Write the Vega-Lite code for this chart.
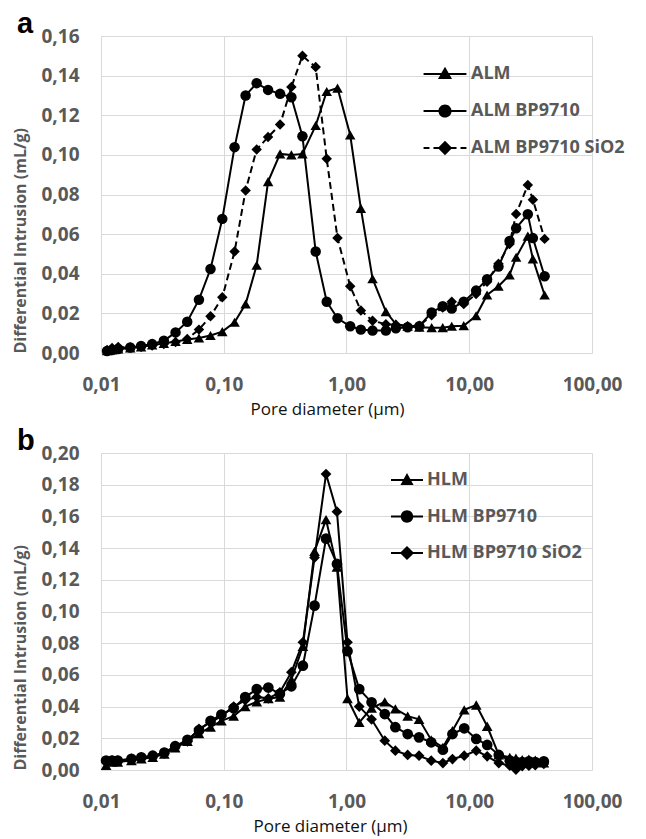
{
"$schema": "https://vega.github.io/schema/vega-lite/v6.json",
"padding": {"left": 12, "top": 10, "right": 2, "bottom": 2},
"background": "white",
"spacing": 10,
"resolve": {"scale": {"shape": "independent"}, "legend": {"shape": "independent"}},
"config": {
  "view": {"stroke": null},
  "axis": {"grid": true, "gridColor": "#d9d9d9", "gridWidth": 1, "domain": false, "ticks": false, "tickSize": 0,
    "labelFont": "Open Sans", "labelFontWeight": "bold", "labelFontSize": 19, "labelColor": "#595959",
    "labelFlush": false, "labelOverlap": false, "labelBound": false}
},
"datasets": {
"a": [
{"x":0.0112,"y":0.0012,"s":"ALM"},{"x":0.0123,"y":0.0015,"s":"ALM"},{"x":0.0138,"y":0.002,"s":"ALM"},{"x":0.0173,"y":0.0025,"s":"ALM"},{"x":0.0212,"y":0.003,"s":"ALM"},{"x":0.0261,"y":0.004,"s":"ALM"},{"x":0.0325,"y":0.0048,"s":"ALM"},{"x":0.0405,"y":0.0058,"s":"ALM"},{"x":0.0504,"y":0.0068,"s":"ALM"},{"x":0.0628,"y":0.0076,"s":"ALM"},{"x":0.078,"y":0.0088,"s":"ALM"},{"x":0.0973,"y":0.0108,"s":"ALM"},{"x":0.1225,"y":0.0155,"s":"ALM"},{"x":0.1507,"y":0.0247,"s":"ALM"},{"x":0.1854,"y":0.0443,"s":"ALM"},{"x":0.2297,"y":0.0865,"s":"ALM"},{"x":0.2877,"y":0.1005,"s":"ALM"},{"x":0.3556,"y":0.1,"s":"ALM"},{"x":0.4375,"y":0.1005,"s":"ALM"},{"x":0.561,"y":0.1148,"s":"ALM"},{"x":0.69,"y":0.132,"s":"ALM"},{"x":0.845,"y":0.1337,"s":"ALM"},{"x":1.072,"y":0.110,"s":"ALM"},{"x":1.309,"y":0.073,"s":"ALM"},{"x":1.63,"y":0.0375,"s":"ALM"},{"x":2.093,"y":0.0209,"s":"ALM"},{"x":2.524,"y":0.0146,"s":"ALM"},{"x":3.145,"y":0.0135,"s":"ALM"},{"x":3.92,"y":0.013,"s":"ALM"},{"x":4.94,"y":0.0128,"s":"ALM"},{"x":6.08,"y":0.0128,"s":"ALM"},{"x":7.2,"y":0.0135,"s":"ALM"},{"x":9.02,"y":0.0138,"s":"ALM"},{"x":11.37,"y":0.0188,"s":"ALM"},{"x":13.97,"y":0.0293,"s":"ALM"},{"x":17.3,"y":0.0337,"s":"ALM"},{"x":21.3,"y":0.0394,"s":"ALM"},{"x":24.1,"y":0.0483,"s":"ALM"},{"x":30.0,"y":0.059,"s":"ALM"},{"x":33.0,"y":0.0475,"s":"ALM"},{"x":41.1,"y":0.0293,"s":"ALM"},
{"x":0.0112,"y":0.001,"s":"ALM BP9710"},{"x":0.0123,"y":0.0015,"s":"ALM BP9710"},{"x":0.0138,"y":0.002,"s":"ALM BP9710"},{"x":0.0173,"y":0.0028,"s":"ALM BP9710"},{"x":0.0212,"y":0.0035,"s":"ALM BP9710"},{"x":0.0261,"y":0.0045,"s":"ALM BP9710"},{"x":0.0325,"y":0.0062,"s":"ALM BP9710"},{"x":0.0405,"y":0.0104,"s":"ALM BP9710"},{"x":0.0504,"y":0.0158,"s":"ALM BP9710"},{"x":0.0628,"y":0.0269,"s":"ALM BP9710"},{"x":0.078,"y":0.0424,"s":"ALM BP9710"},{"x":0.0973,"y":0.0677,"s":"ALM BP9710"},{"x":0.1225,"y":0.1039,"s":"ALM BP9710"},{"x":0.1507,"y":0.130,"s":"ALM BP9710"},{"x":0.1854,"y":0.1362,"s":"ALM BP9710"},{"x":0.2297,"y":0.1328,"s":"ALM BP9710"},{"x":0.2877,"y":0.1308,"s":"ALM BP9710"},{"x":0.3556,"y":0.1291,"s":"ALM BP9710"},{"x":0.4375,"y":0.1094,"s":"ALM BP9710"},{"x":0.561,"y":0.0512,"s":"ALM BP9710"},{"x":0.69,"y":0.0259,"s":"ALM BP9710"},{"x":0.845,"y":0.0175,"s":"ALM BP9710"},{"x":1.072,"y":0.0135,"s":"ALM BP9710"},{"x":1.309,"y":0.0118,"s":"ALM BP9710"},{"x":1.63,"y":0.0113,"s":"ALM BP9710"},{"x":2.093,"y":0.0113,"s":"ALM BP9710"},{"x":2.524,"y":0.0125,"s":"ALM BP9710"},{"x":3.145,"y":0.013,"s":"ALM BP9710"},{"x":3.92,"y":0.0135,"s":"ALM BP9710"},{"x":4.94,"y":0.0205,"s":"ALM BP9710"},{"x":6.08,"y":0.0236,"s":"ALM BP9710"},{"x":7.2,"y":0.0225,"s":"ALM BP9710"},{"x":9.02,"y":0.0259,"s":"ALM BP9710"},{"x":11.37,"y":0.0315,"s":"ALM BP9710"},{"x":13.97,"y":0.0372,"s":"ALM BP9710"},{"x":17.3,"y":0.0436,"s":"ALM BP9710"},{"x":21.3,"y":0.0565,"s":"ALM BP9710"},{"x":24.1,"y":0.063,"s":"ALM BP9710"},{"x":30.0,"y":0.070,"s":"ALM BP9710"},{"x":33.0,"y":0.058,"s":"ALM BP9710"},{"x":41.1,"y":0.0387,"s":"ALM BP9710"},
{"x":0.0112,"y":0.0015,"s":"ALM BP9710 SiO2"},{"x":0.0123,"y":0.0025,"s":"ALM BP9710 SiO2"},{"x":0.0138,"y":0.003,"s":"ALM BP9710 SiO2"},{"x":0.0173,"y":0.0028,"s":"ALM BP9710 SiO2"},{"x":0.0212,"y":0.0032,"s":"ALM BP9710 SiO2"},{"x":0.0261,"y":0.0038,"s":"ALM BP9710 SiO2"},{"x":0.0325,"y":0.0045,"s":"ALM BP9710 SiO2"},{"x":0.0405,"y":0.0055,"s":"ALM BP9710 SiO2"},{"x":0.0504,"y":0.0071,"s":"ALM BP9710 SiO2"},{"x":0.0628,"y":0.0118,"s":"ALM BP9710 SiO2"},{"x":0.078,"y":0.0185,"s":"ALM BP9710 SiO2"},{"x":0.0973,"y":0.0281,"s":"ALM BP9710 SiO2"},{"x":0.1225,"y":0.0512,"s":"ALM BP9710 SiO2"},{"x":0.1507,"y":0.082,"s":"ALM BP9710 SiO2"},{"x":0.1854,"y":0.1027,"s":"ALM BP9710 SiO2"},{"x":0.2297,"y":0.109,"s":"ALM BP9710 SiO2"},{"x":0.2877,"y":0.1153,"s":"ALM BP9710 SiO2"},{"x":0.3556,"y":0.1342,"s":"ALM BP9710 SiO2"},{"x":0.4375,"y":0.150,"s":"ALM BP9710 SiO2"},{"x":0.561,"y":0.1443,"s":"ALM BP9710 SiO2"},{"x":0.69,"y":0.098,"s":"ALM BP9710 SiO2"},{"x":0.845,"y":0.058,"s":"ALM BP9710 SiO2"},{"x":1.072,"y":0.0337,"s":"ALM BP9710 SiO2"},{"x":1.309,"y":0.0214,"s":"ALM BP9710 SiO2"},{"x":1.63,"y":0.0163,"s":"ALM BP9710 SiO2"},{"x":2.093,"y":0.0145,"s":"ALM BP9710 SiO2"},{"x":2.524,"y":0.0142,"s":"ALM BP9710 SiO2"},{"x":3.145,"y":0.0135,"s":"ALM BP9710 SiO2"},{"x":3.92,"y":0.0138,"s":"ALM BP9710 SiO2"},{"x":4.94,"y":0.019,"s":"ALM BP9710 SiO2"},{"x":6.08,"y":0.023,"s":"ALM BP9710 SiO2"},{"x":7.2,"y":0.0259,"s":"ALM BP9710 SiO2"},{"x":9.02,"y":0.0247,"s":"ALM BP9710 SiO2"},{"x":11.37,"y":0.0298,"s":"ALM BP9710 SiO2"},{"x":13.97,"y":0.036,"s":"ALM BP9710 SiO2"},{"x":17.3,"y":0.045,"s":"ALM BP9710 SiO2"},{"x":21.3,"y":0.055,"s":"ALM BP9710 SiO2"},{"x":24.1,"y":0.0702,"s":"ALM BP9710 SiO2"},{"x":30.0,"y":0.0848,"s":"ALM BP9710 SiO2"},{"x":33.0,"y":0.0774,"s":"ALM BP9710 SiO2"},{"x":41.1,"y":0.0576,"s":"ALM BP9710 SiO2"}
],
"b": [
{"x":0.011,"y":0.003,"s":"HLM"},{"x":0.0123,"y":0.005,"s":"HLM"},{"x":0.0137,"y":0.005,"s":"HLM"},{"x":0.0177,"y":0.006,"s":"HLM"},{"x":0.0213,"y":0.007,"s":"HLM"},{"x":0.0264,"y":0.008,"s":"HLM"},{"x":0.0328,"y":0.010,"s":"HLM"},{"x":0.0402,"y":0.014,"s":"HLM"},{"x":0.0506,"y":0.018,"s":"HLM"},{"x":0.0628,"y":0.023,"s":"HLM"},{"x":0.0781,"y":0.027,"s":"HLM"},{"x":0.0957,"y":0.031,"s":"HLM"},{"x":0.1204,"y":0.034,"s":"HLM"},{"x":0.1496,"y":0.040,"s":"HLM"},{"x":0.1858,"y":0.043,"s":"HLM"},{"x":0.2308,"y":0.045,"s":"HLM"},{"x":0.2866,"y":0.046,"s":"HLM"},{"x":0.3556,"y":0.057,"s":"HLM"},{"x":0.4413,"y":0.078,"s":"HLM"},{"x":0.549,"y":0.138,"s":"HLM"},{"x":0.681,"y":0.158,"s":"HLM"},{"x":0.836,"y":0.128,"s":"HLM"},{"x":1.019,"y":0.045,"s":"HLM"},{"x":1.27,"y":0.030,"s":"HLM"},{"x":1.6,"y":0.039,"s":"HLM"},{"x":2.05,"y":0.043,"s":"HLM"},{"x":2.5,"y":0.0385,"s":"HLM"},{"x":3.15,"y":0.034,"s":"HLM"},{"x":3.9,"y":0.032,"s":"HLM"},{"x":4.9,"y":0.019,"s":"HLM"},{"x":6.1,"y":0.0143,"s":"HLM"},{"x":7.3,"y":0.0248,"s":"HLM"},{"x":9.1,"y":0.038,"s":"HLM"},{"x":11.4,"y":0.041,"s":"HLM"},{"x":14.0,"y":0.0276,"s":"HLM"},{"x":17.4,"y":0.0095,"s":"HLM"},{"x":21.4,"y":0.008,"s":"HLM"},{"x":24.0,"y":0.0075,"s":"HLM"},{"x":27.0,"y":0.0065,"s":"HLM"},{"x":30.6,"y":0.0068,"s":"HLM"},{"x":34.5,"y":0.0062,"s":"HLM"},{"x":40.5,"y":0.0045,"s":"HLM"},
{"x":0.011,"y":0.006,"s":"HLM BP9710"},{"x":0.0123,"y":0.006,"s":"HLM BP9710"},{"x":0.0137,"y":0.006,"s":"HLM BP9710"},{"x":0.0177,"y":0.007,"s":"HLM BP9710"},{"x":0.0213,"y":0.008,"s":"HLM BP9710"},{"x":0.0264,"y":0.009,"s":"HLM BP9710"},{"x":0.0328,"y":0.011,"s":"HLM BP9710"},{"x":0.0402,"y":0.015,"s":"HLM BP9710"},{"x":0.0506,"y":0.019,"s":"HLM BP9710"},{"x":0.0628,"y":0.025,"s":"HLM BP9710"},{"x":0.0781,"y":0.031,"s":"HLM BP9710"},{"x":0.0957,"y":0.035,"s":"HLM BP9710"},{"x":0.1204,"y":0.039,"s":"HLM BP9710"},{"x":0.1496,"y":0.046,"s":"HLM BP9710"},{"x":0.1858,"y":0.051,"s":"HLM BP9710"},{"x":0.2308,"y":0.052,"s":"HLM BP9710"},{"x":0.2866,"y":0.048,"s":"HLM BP9710"},{"x":0.3556,"y":0.0528,"s":"HLM BP9710"},{"x":0.4413,"y":0.0658,"s":"HLM BP9710"},{"x":0.549,"y":0.1037,"s":"HLM BP9710"},{"x":0.681,"y":0.146,"s":"HLM BP9710"},{"x":0.836,"y":0.130,"s":"HLM BP9710"},{"x":1.019,"y":0.075,"s":"HLM BP9710"},{"x":1.27,"y":0.051,"s":"HLM BP9710"},{"x":1.6,"y":0.0427,"s":"HLM BP9710"},{"x":2.05,"y":0.0353,"s":"HLM BP9710"},{"x":2.5,"y":0.027,"s":"HLM BP9710"},{"x":3.15,"y":0.0227,"s":"HLM BP9710"},{"x":3.9,"y":0.0206,"s":"HLM BP9710"},{"x":4.9,"y":0.0175,"s":"HLM BP9710"},{"x":6.1,"y":0.0128,"s":"HLM BP9710"},{"x":7.3,"y":0.0227,"s":"HLM BP9710"},{"x":9.1,"y":0.0263,"s":"HLM BP9710"},{"x":11.4,"y":0.0196,"s":"HLM BP9710"},{"x":14.0,"y":0.0158,"s":"HLM BP9710"},{"x":17.4,"y":0.0095,"s":"HLM BP9710"},{"x":21.4,"y":0.006,"s":"HLM BP9710"},{"x":24.0,"y":0.0052,"s":"HLM BP9710"},{"x":27.0,"y":0.005,"s":"HLM BP9710"},{"x":30.6,"y":0.0055,"s":"HLM BP9710"},{"x":34.5,"y":0.005,"s":"HLM BP9710"},{"x":40.5,"y":0.0055,"s":"HLM BP9710"},
{"x":0.011,"y":0.005,"s":"HLM BP9710 SiO2"},{"x":0.0123,"y":0.006,"s":"HLM BP9710 SiO2"},{"x":0.0137,"y":0.006,"s":"HLM BP9710 SiO2"},{"x":0.0177,"y":0.007,"s":"HLM BP9710 SiO2"},{"x":0.0213,"y":0.008,"s":"HLM BP9710 SiO2"},{"x":0.0264,"y":0.0085,"s":"HLM BP9710 SiO2"},{"x":0.0328,"y":0.0105,"s":"HLM BP9710 SiO2"},{"x":0.0402,"y":0.015,"s":"HLM BP9710 SiO2"},{"x":0.0506,"y":0.018,"s":"HLM BP9710 SiO2"},{"x":0.0628,"y":0.026,"s":"HLM BP9710 SiO2"},{"x":0.0781,"y":0.030,"s":"HLM BP9710 SiO2"},{"x":0.0957,"y":0.034,"s":"HLM BP9710 SiO2"},{"x":0.1204,"y":0.040,"s":"HLM BP9710 SiO2"},{"x":0.1496,"y":0.044,"s":"HLM BP9710 SiO2"},{"x":0.1858,"y":0.046,"s":"HLM BP9710 SiO2"},{"x":0.2308,"y":0.0452,"s":"HLM BP9710 SiO2"},{"x":0.2866,"y":0.049,"s":"HLM BP9710 SiO2"},{"x":0.3556,"y":0.0617,"s":"HLM BP9710 SiO2"},{"x":0.4413,"y":0.0806,"s":"HLM BP9710 SiO2"},{"x":0.549,"y":0.134,"s":"HLM BP9710 SiO2"},{"x":0.681,"y":0.1867,"s":"HLM BP9710 SiO2"},{"x":0.836,"y":0.163,"s":"HLM BP9710 SiO2"},{"x":1.019,"y":0.0806,"s":"HLM BP9710 SiO2"},{"x":1.27,"y":0.040,"s":"HLM BP9710 SiO2"},{"x":1.6,"y":0.032,"s":"HLM BP9710 SiO2"},{"x":2.05,"y":0.0185,"s":"HLM BP9710 SiO2"},{"x":2.5,"y":0.0122,"s":"HLM BP9710 SiO2"},{"x":3.15,"y":0.0095,"s":"HLM BP9710 SiO2"},{"x":3.9,"y":0.009,"s":"HLM BP9710 SiO2"},{"x":4.9,"y":0.0059,"s":"HLM BP9710 SiO2"},{"x":6.1,"y":0.0044,"s":"HLM BP9710 SiO2"},{"x":7.3,"y":0.0069,"s":"HLM BP9710 SiO2"},{"x":9.1,"y":0.009,"s":"HLM BP9710 SiO2"},{"x":11.4,"y":0.0122,"s":"HLM BP9710 SiO2"},{"x":14.0,"y":0.0086,"s":"HLM BP9710 SiO2"},{"x":17.4,"y":0.0044,"s":"HLM BP9710 SiO2"},{"x":21.4,"y":0.0027,"s":"HLM BP9710 SiO2"},{"x":24.0,"y":0.0003,"s":"HLM BP9710 SiO2"},{"x":27.0,"y":0.0025,"s":"HLM BP9710 SiO2"},{"x":30.6,"y":0.0027,"s":"HLM BP9710 SiO2"},{"x":34.5,"y":0.003,"s":"HLM BP9710 SiO2"},{"x":40.5,"y":0.0038,"s":"HLM BP9710 SiO2"}
]
},
"vconcat": [
{
  "data": {"name": "a"},
  "width": 491, "height": 317,
  "resolve": {"scale": {"shape": "independent"}, "legend": {"shape": "independent"}},
  "title": {"text": "a", "anchor": "start", "frame": "group", "dx": -84, "offset": -35, "baseline": "alphabetic", "font": "Liberation Sans", "fontSize": 29, "fontWeight": "bold", "color": "#000000"},
  "encoding": {
    "x": {"field": "x", "type": "quantitative", "scale": {"type": "log", "domain": [0.01, 100], "nice": false},
      "axis": {"values": [0.01, 0.1, 1, 10, 100], "labelExpr": "replace(format(datum.value, '.2f'), '.', ',')", "labelPadding": 22,
        "title": "Pore diameter (µm)", "titleFont": "Open Sans", "titleFontWeight": "normal", "titleFontSize": 17, "titleColor": "#111111", "titlePadding": 7, "titleX": 226}},
    "y": {"field": "y", "type": "quantitative", "scale": {"domain": [0, 0.16], "nice": false},
      "axis": {"values": [0, 0.02, 0.04, 0.06, 0.08, 0.1, 0.12, 0.14, 0.16], "labelExpr": "replace(format(datum.value, '.2f'), '.', ',')", "labelPadding": 22,
        "title": "Differential Intrusion (mL/g)", "titleFont": "Open Sans", "titleFontWeight": "bold", "titleFontSize": 16, "titleColor": "#595959", "titlePadding": 12, "titleAnchor": "start"}}
  },
  "layer": [
    {"transform": [{"filter": {"not": {"field": "s", "equal": "ALM BP9710 SiO2"}}}],
     "mark": {"type": "line", "color": "#000000", "strokeWidth": 2},
     "encoding": {"detail": {"field": "s", "type": "nominal"}}},
    {"transform": [{"filter": {"field": "s", "equal": "ALM BP9710 SiO2"}}],
     "mark": {"type": "line", "color": "#000000", "strokeWidth": 2, "strokeDash": [7, 4]},
     "encoding": {"detail": {"field": "s", "type": "nominal"}}},
    {"mark": {"type": "point", "filled": true, "color": "#000000", "opacity": 1, "size": 110},
     "encoding": {
       "shape": {"field": "s", "type": "nominal", "scale": {"domain": ["ALM", "ALM BP9710", "ALM BP9710 SiO2"], "range": ["triangle-up", "circle", "diamond"]}, "legend": null}
     }},
    {"mark": {"type": "point", "filled": true, "color": "#000000", "opacity": 0, "size": 1024},
     "encoding": {
       "shape": {"field": "s", "type": "nominal",
         "scale": {"domain": ["ALM", "ALM BP9710", "ALM BP9710 SiO2"], "range": [
           "M -1.34 -0.0625 L 1.34 -0.0625 L 1.34 0.0625 L -1.34 0.0625 Z M 0 -0.45 L 0.44 0.32 L -0.44 0.32 Z",
           "M -1.34 -0.0625 L 1.34 -0.0625 L 1.34 0.0625 L -1.34 0.0625 Z M -0.41 0 A 0.41 0.41 0 1 1 0.41 0 A 0.41 0.41 0 1 1 -0.41 0 Z",
           "M -1.34 -0.0625 L -0.97 -0.0625 L -0.97 0.0625 L -1.34 0.0625 Z M -0.72 -0.0625 L 0.72 -0.0625 L 0.72 0.0625 L -0.72 0.0625 Z M 0.97 -0.0625 L 1.34 -0.0625 L 1.34 0.0625 L 0.97 0.0625 Z M 0 -0.45 L 0.45 0 L 0 0.45 L -0.45 0 Z"]},
         "legend": {"title": null, "orient": "none", "legendX": 328, "legendY": 22, "symbolSize": 1024, "symbolStrokeWidth": 0, "symbolFillColor": "#000000", "symbolOpacity": 1,
           "labelFont": "Open Sans", "labelFontWeight": "bold", "labelFontSize": 18, "labelColor": "#595959", "labelOffset": 10, "labelLimit": 300, "rowPadding": 12}}
     }}
  ]
},
{
  "data": {"name": "b"},
  "width": 491, "height": 317,
  "resolve": {"scale": {"shape": "independent"}, "legend": {"shape": "independent"}},
  "title": {"text": "b", "anchor": "start", "frame": "group", "dx": -84, "offset": -35, "baseline": "alphabetic", "font": "Liberation Sans", "fontSize": 29, "fontWeight": "bold", "color": "#000000"},
  "encoding": {
    "x": {"field": "x", "type": "quantitative", "scale": {"type": "log", "domain": [0.01, 100], "nice": false},
      "axis": {"values": [0.01, 0.1, 1, 10, 100], "labelExpr": "replace(format(datum.value, '.2f'), '.', ',')", "labelPadding": 22,
        "title": "Pore diameter (µm)", "titleFont": "Open Sans", "titleFontWeight": "normal", "titleFontSize": 17, "titleColor": "#111111", "titlePadding": 7, "titleX": 229}},
    "y": {"field": "y", "type": "quantitative", "scale": {"domain": [0, 0.2], "nice": false},
      "axis": {"values": [0, 0.02, 0.04, 0.06, 0.08, 0.1, 0.12, 0.14, 0.16, 0.18, 0.2], "labelExpr": "replace(format(datum.value, '.2f'), '.', ',')", "labelPadding": 22,
        "title": "Differential Intrusion (mL/g)", "titleFont": "Open Sans", "titleFontWeight": "bold", "titleFontSize": 16, "titleColor": "#595959", "titlePadding": 12, "titleAnchor": "start"}}
  },
  "layer": [
    {"mark": {"type": "line", "color": "#000000", "strokeWidth": 2},
     "encoding": {"detail": {"field": "s", "type": "nominal"}}},
    {"mark": {"type": "point", "filled": true, "color": "#000000", "opacity": 1, "size": 115},
     "encoding": {
       "shape": {"field": "s", "type": "nominal", "scale": {"domain": ["HLM", "HLM BP9710", "HLM BP9710 SiO2"], "range": ["triangle-up", "circle", "diamond"]}, "legend": null}
     }},
    {"mark": {"type": "point", "filled": true, "color": "#000000", "opacity": 0, "size": 1024},
     "encoding": {
       "shape": {"field": "s", "type": "nominal",
         "scale": {"domain": ["HLM", "HLM BP9710", "HLM BP9710 SiO2"], "range": [
           "M -1 -0.0625 L 1 -0.0625 L 1 0.0625 L -1 0.0625 Z M 0 -0.43 L 0.41 0.32 L -0.41 0.32 Z",
           "M -1 -0.0625 L 1 -0.0625 L 1 0.0625 L -1 0.0625 Z M -0.39 0 A 0.39 0.39 0 1 1 0.39 0 A 0.39 0.39 0 1 1 -0.39 0 Z",
           "M -1 -0.0625 L 1 -0.0625 L 1 0.0625 L -1 0.0625 Z M 0 -0.44 L 0.44 0 L 0 0.44 L -0.44 0 Z"]},
         "legend": {"title": null, "orient": "none", "legendX": 290, "legendY": 11, "symbolSize": 1024, "symbolStrokeWidth": 0, "symbolFillColor": "#000000", "symbolOpacity": 1,
           "labelFont": "Open Sans", "labelFontWeight": "bold", "labelFontSize": 18, "labelColor": "#595959", "labelOffset": 4, "labelLimit": 300, "rowPadding": 11.5}}
     }}
  ]
}
]
}
